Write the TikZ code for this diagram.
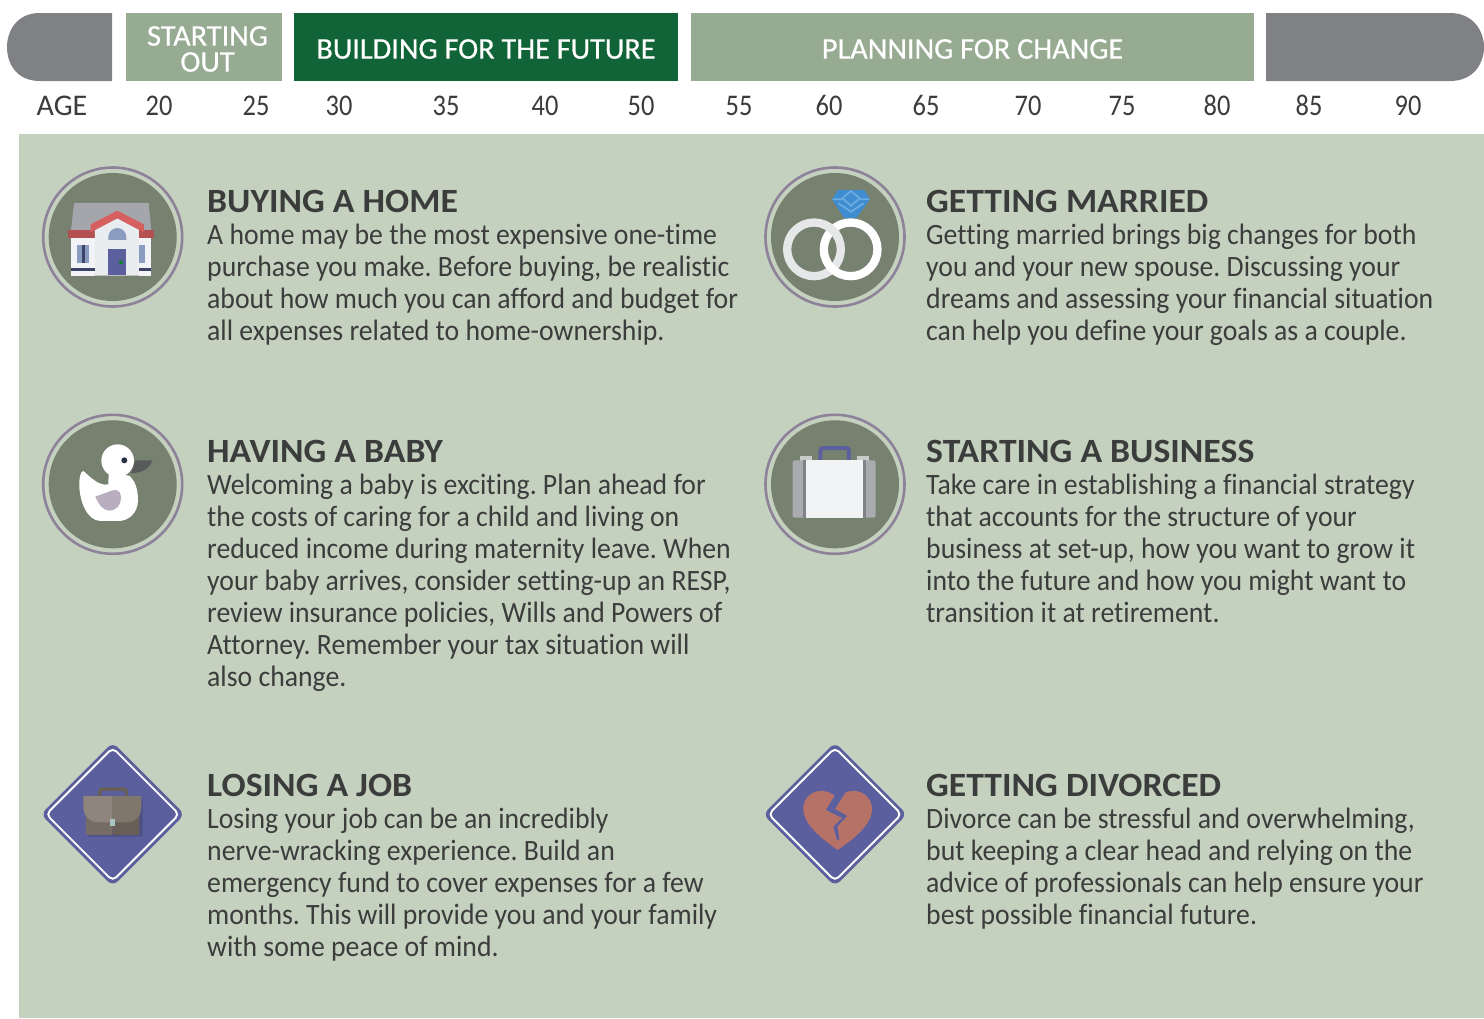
\documentclass[tikz,border=0pt]{standalone}
\usepackage{fontspec}
\setmainfont[Ligatures=CommonOff]{Carlito}
\newfontfamily\bodyface[Ligatures=CommonOff,FakeStretch=0.94]{Carlito}
\newfontfamily\headface[Ligatures=CommonOff,FakeStretch=1.05]{Carlito}
\newfontfamily\bandface[Ligatures=CommonOff,FakeStretch=1.01,FakeBold=0.5]{Carlito}
\newfontfamily\numface[FakeStretch=0.88]{Carlito}
\frenchspacing
\definecolor{panel}{HTML}{C5D1BF}
\definecolor{sage}{HTML}{97AA92}
\definecolor{forest}{HTML}{116437}
\definecolor{slate}{HTML}{808185}
\definecolor{ink}{HTML}{3B3D3C}
\definecolor{disc}{HTML}{768170}
\definecolor{ringc}{HTML}{8E829B}
\definecolor{indigo}{HTML}{5B5F9D}
\definecolor{roofgray}{HTML}{A5A6AB}
\definecolor{eave}{HTML}{B35052}
\definecolor{roofred}{HTML}{D66060}
\definecolor{wallw}{HTML}{F1F3F6}
\definecolor{wallc}{HTML}{E9EDF0}
\definecolor{glass}{HTML}{8A9DC0}
\definecolor{navy}{HTML}{3E4468}
\definecolor{ringg}{HTML}{E6E7E8}
\definecolor{gem}{HTML}{3F8CD0}
\definecolor{gemlight}{HTML}{6AABE0}
\definecolor{lilac}{HTML}{B8AEBF}
\definecolor{beak}{HTML}{58595B}
\definecolor{caseg}{HTML}{A9ABAE}
\definecolor{casew}{HTML}{F1F3F5}
\definecolor{cased}{HTML}{808285}
\definecolor{latch}{HTML}{C8CCC8}
\definecolor{flapl}{HTML}{8F857D}
\definecolor{flapr}{HTML}{7F766C}
\definecolor{lowl}{HTML}{756C65}
\definecolor{lowr}{HTML}{675F58}
\definecolor{clasp}{HTML}{A9C5C3}
\definecolor{heartc}{HTML}{B77268}
\tikzset{
  bandlabel/.style={text=white,font=\bandface\fontsize{30}{26}\selectfont,align=center,inner sep=0pt},
  agelabel/.style={text=ink,font=\fontsize{30}{30}\selectfont,anchor=base,inner sep=0pt},
  agenum/.style={agelabel,font=\numface\fontsize{30}{30}\selectfont},
  headline/.style={text=ink,font=\headface\bfseries\fontsize{34}{34}\selectfont,anchor=base west,inner sep=0pt},
  bodytext/.style={text=ink,font=\bodyface\fontsize{29.5}{32}\selectfont,anchor=north west,align=left,inner sep=0pt},
  zoomed/.style={x=0.3333pt,y=-0.3333pt},
}
\newcommand{\badge}[2]{%
  \fill[disc] (#1,#2) circle (64pt);
  \draw[ringc,line width=2.6pt] (#1,#2) circle (69.5pt);
}
\newcommand{\diamondbadge}[2]{%
  \fill[indigo,rounded corners=7pt] (#1,#2-72) -- (#1+72,#2) -- (#1,#2+72) -- (#1-72,#2) -- cycle;
  \draw[white,line width=1.9pt,rounded corners=5pt] (#1,#2-66.5) -- (#1+66.5,#2) -- (#1,#2+66.5) -- (#1-66.5,#2) -- cycle;
}
\begin{document}
\begin{tikzpicture}[x=1pt,y=-1pt]
\useasboundingbox (0,0) rectangle (1484,1018);
\fill[white] (0,0) rectangle (1484,1018);
\fill[panel] (19,134) rectangle (1484,1018);
% bands
\fill[slate] (112,13) -- (40,13) .. controls (16,13) and (7,32) .. (7,47) .. controls (7,63) and (16,81) .. (40,81) -- (112,81) -- cycle;
\fill[sage] (126,13) rectangle (282,81);
\fill[forest] (294,13) rectangle (678,81);
\fill[sage] (691,13) rectangle (1254,81);
\fill[slate] (1266,13) -- (1450,13) .. controls (1474,13) and (1484,32) .. (1484,47) .. controls (1484,63) and (1474,81) .. (1450,81) -- (1266,81) -- cycle;
\node[bandlabel] (startout) at (207.5,49) {STARTING\\OUT};
\node[bandlabel] (building) at (486,49) {BUILDING FOR THE FUTURE};
\node[bandlabel] (planning) at (972.5,49) {PLANNING FOR CHANGE};
% ages
\node[agelabel] (age) at (62,115) {AGE};
\foreach \px/\val in {159/20,256/25,339/30,446/35,545/40,641/50,739/55,829/60,926/65,1028/70,1122/75,1217/80,1309/85,1408/90}
  \node[agenum] (age\val) at (\px,115) {\val};
% text
\node[headline] (t1) at (207,212) {BUYING A HOME};
\node[bodytext] (b1) at (207,224) {A home may be the most expensive one-time\\purchase you make. Before buying, be realistic\\about how much you can afford and budget for\\all expenses related to home-ownership.};
\node[headline] (t2) at (926,212) {GETTING MARRIED};
\node[bodytext] (b2) at (926,224) {Getting married brings big changes for both\\you and your new spouse. Discussing your\\dreams and assessing your financial situation\\can help you define your goals as a couple.};
\node[headline] (t3) at (207,462) {HAVING A BABY};
\node[bodytext] (b3) at (207,474) {Welcoming a baby is exciting. Plan ahead for\\the costs of caring for a child and living on\\reduced income during maternity leave. When\\your baby arrives, consider setting-up an RESP,\\review insurance policies, Wills and Powers of\\Attorney. Remember your tax situation will\\also change.};
\node[headline] (t4) at (926,462) {STARTING A BUSINESS};
\node[bodytext] (b4) at (926,474) {Take care in establishing a financial strategy\\that accounts for the structure of your\\business at set-up, how you want to grow it\\into the future and how you might want to\\transition it at retirement.};
\node[headline] (t5) at (207,796) {LOSING A JOB};
\node[bodytext] (b5) at (207,808) {Losing your job can be an incredibly\\nerve-wracking experience. Build an\\emergency fund to cover expenses for a few\\months. This will provide you and your family\\with some peace of mind.};
\node[headline] (t6) at (926,796) {GETTING DIVORCED};
\node[bodytext] (b6) at (926,808) {Divorce can be stressful and overwhelming,\\but keeping a clear head and relying on the\\advice of professionals can help ensure your\\best possible financial future.};
% house
\badge{112.7}{237}
\begin{scope}[shift={(30,155)},zoomed]
\fill[roofgray] (132,144) -- (356,144) -- (364,226) -- (123,226) -- cycle;
\fill[eave] (114,225) rectangle (372,250);
\fill[wallw] (123,250) rectangle (362,362);
\fill[wallc] (195,362) -- (195,225) -- (262,190) -- (327,225) -- (327,362) -- cycle;
\fill[roofred] (182,208) -- (262,167) -- (342,208) -- (342,232) -- (262,190) -- (182,232) -- cycle;
\fill[glass] (235,255) -- (235,246) arc[start angle=180,end angle=0,x radius=27,y radius=-27] -- (289,255) -- cycle;
\fill[indigo] (234,282) rectangle (288,362);
\fill[forest!80!green] (273,322) circle (6);
\fill[glass] (141,270) rectangle (177,324);
\fill[navy] (156,270) rectangle (166,324);
\fill[glass] (327,270) rectangle (345,324);
\fill[navy] (123,339) rectangle (195,348);
\fill[navy] (327,339) rectangle (362,348);
\fill[lightgray] (195,360) rectangle (327,362);
\end{scope}
% rings
\badge{835}{237}
\begin{scope}[shift={(755,155)},zoomed]
\fill[gem] (248,105) -- (328,105) -- (345,133) -- (303,190) -- (268,190) -- (231,133) -- cycle;
\draw[gemlight,line width=1.8pt] (233,133) -- (262,133) (314,133) -- (343,133) (250,145) -- (288,170) -- (326,145);
\draw[gemlight,line width=1.8pt] (262,130) -- (288,108) -- (314,130) -- (288,152) -- cycle;
\draw[ringg,line width=8.3pt] (177,283) circle (80.5);
\draw[white,line width=8.3pt] (287,283) circle (80.5);
\draw[ringg,line width=8.3pt] (177,283) ++(-70:80.5) arc[start angle=-70,end angle=-25,radius=80.5];
\end{scope}
% duck
\badge{112.7}{484.3}
\begin{scope}[shift={(30,405)},zoomed]
\fill[beak] (316,166) -- (367,166) .. controls (358,190) and (340,203) .. (303,205) -- cycle;
\fill[white] (263,167) circle (49);
\fill[white] (160,198) .. controls (175,210) and (205,245) .. (235,238) -- (236,205) -- (298,212) .. controls (318,230) and (324,258) .. (324,285) .. controls (324,325) and (295,348) .. (265,348) -- (212,348) .. controls (170,348) and (148,285) .. (148,240) .. controls (148,220) and (150,200) .. (160,198) -- cycle;
\fill[lilac] (196,274) .. controls (215,270) and (235,258) .. (255,255) .. controls (268,255) and (273,265) .. (273,280) .. controls (273,300) and (258,317) .. (238,317) .. controls (220,317) and (205,298) .. (196,274) -- cycle;
\fill[navy!70!black] (283,166) circle (9);
\end{scope}
% business case
\badge{835}{484.3}
\begin{scope}[shift={(755,405)},zoomed]
\fill[latch] (135,153) rectangle (170,170);
\fill[latch] (306,153) rectangle (342,170);
\draw[indigo,line width=4pt,rounded corners=3pt] (196,170) -- (196,129) -- (282,129) -- (282,170);
\fill[caseg,rounded corners=2pt] (113,166) rectangle (362,338);
\fill[cased] (144,166) rectangle (333,338);
\fill[casew] (153,166) rectangle (324,338);
\end{scope}
% losing job
\diamondbadge{112.7}{814.3}
\begin{scope}[shift={(30,735)},zoomed]
\draw[lowr,line width=3.5pt,rounded corners=3pt] (209,190) -- (209,162) -- (289,162) -- (289,190);
\fill[indigo!70!black,opacity=.5,rounded corners=2pt] (172,190) rectangle (338,305);
\fill[lowl,rounded corners=2pt] (168,200) rectangle (248,300);
\fill[lowr,rounded corners=2pt] (248,200) rectangle (328,300);
\fill[flapl] (160,183) -- (248,183) -- (248,262) -- (205,262) .. controls (175,260) and (160,240) .. (160,215) -- cycle;
\fill[flapr] (248,183) -- (334,183) -- (334,215) .. controls (334,240) and (320,262) .. (290,262) -- (248,262) -- cycle;
\fill[clasp] (240,253) rectangle (256,274);
\end{scope}
% divorce
\diamondbadge{835}{814.3}
\begin{scope}[shift={(755,735)},zoomed]
\fill[heartc] (248,345) .. controls (200,310) and (145,270) .. (145,220) .. controls (145,190) and (170,168) .. (197,168) .. controls (215,168) and (230,172) .. (248,190) .. controls (262,172) and (278,168) .. (297,168) .. controls (325,168) and (351,190) .. (351,222) .. controls (351,270) and (295,312) .. (248,345) -- cycle;
\fill[indigo] (240,180) -- (274,168) -- (240,222) -- (276,243) -- (247,274) -- (253,313) -- (246,315) -- (235,275) -- (262,249) -- (213,225) -- cycle;
\end{scope}
\end{tikzpicture}
\end{document}
